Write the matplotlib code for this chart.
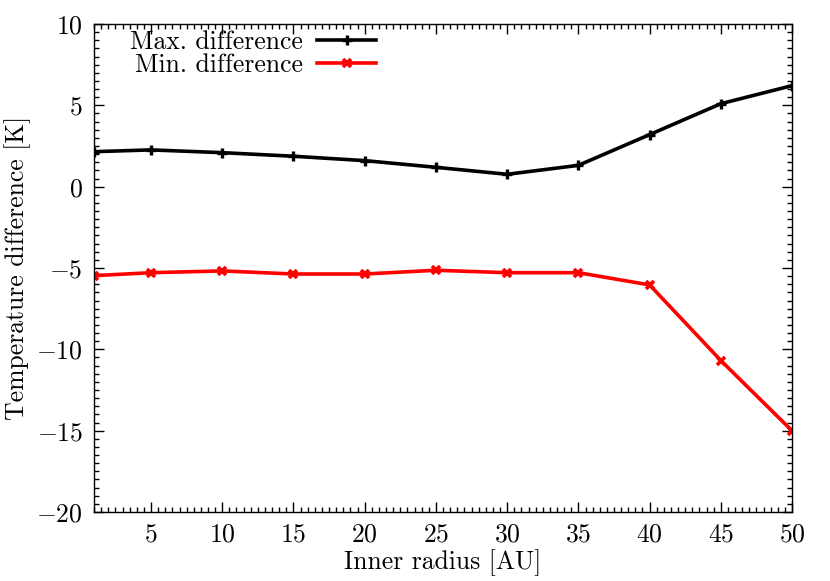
import matplotlib
matplotlib.use("Agg")
import matplotlib.pyplot as plt
from matplotlib.ticker import MultipleLocator

plt.rcParams['font.family'] = 'serif'
plt.rcParams['font.serif'] = ['cmr10']
plt.rcParams['mathtext.fontset'] = 'cm'
plt.rcParams['axes.formatter.use_mathtext'] = True
plt.rcParams['font.size'] = 18.5

# inner radius [AU]
radius = [1, 5, 10, 15, 20, 25, 30, 35, 40, 45, 50]
# temperature differences [K]
max_diff = [2.15, 2.26, 2.09, 1.87, 1.60, 1.19, 0.76, 1.31, 3.20, 5.10, 6.21]
min_diff = [-5.47, -5.29, -5.18, -5.37, -5.37, -5.14, -5.29, -5.29, -6.04, -10.69, -15.01]

fig = plt.figure(figsize=(8.3, 5.81), dpi=100)
ax = fig.add_axes([0.1133, 0.1188, 0.8410, 0.8399])

ax.plot(radius, max_diff, color='black', lw=2.6, marker='+', ms=7, mew=2.4,
        label='Max. difference')
ax.plot(radius, min_diff, color='red', lw=2.6, marker='x', ms=6, mew=2.6,
        label='Min. difference')

ax.set_xlim(1, 50)
ax.set_ylim(-20, 10)
ax.xaxis.set_major_locator(MultipleLocator(5))
ax.xaxis.set_minor_locator(MultipleLocator(0.5))
ax.yaxis.set_major_locator(MultipleLocator(5))
ax.yaxis.set_minor_locator(MultipleLocator(0.5))
ax.tick_params(which='both', direction='in', top=True, right=True, width=1)
ax.tick_params(which='major', length=7, pad=8)
ax.tick_params(which='minor', length=3.5)
for s in ax.spines.values():
    s.set_linewidth(1)

ax.set_xlabel('Inner radius [AU]', labelpad=2)
ax.set_ylabel('Temperature difference [K]', labelpad=4)

leg = ax.legend(loc='upper left', bbox_to_anchor=(0.0516, 0.988), frameon=False,
                markerfirst=False, handlelength=2.3, handletextpad=0.55,
                labelspacing=0.0, borderaxespad=0, borderpad=0)

fig.savefig('out.png', dpi=100)
